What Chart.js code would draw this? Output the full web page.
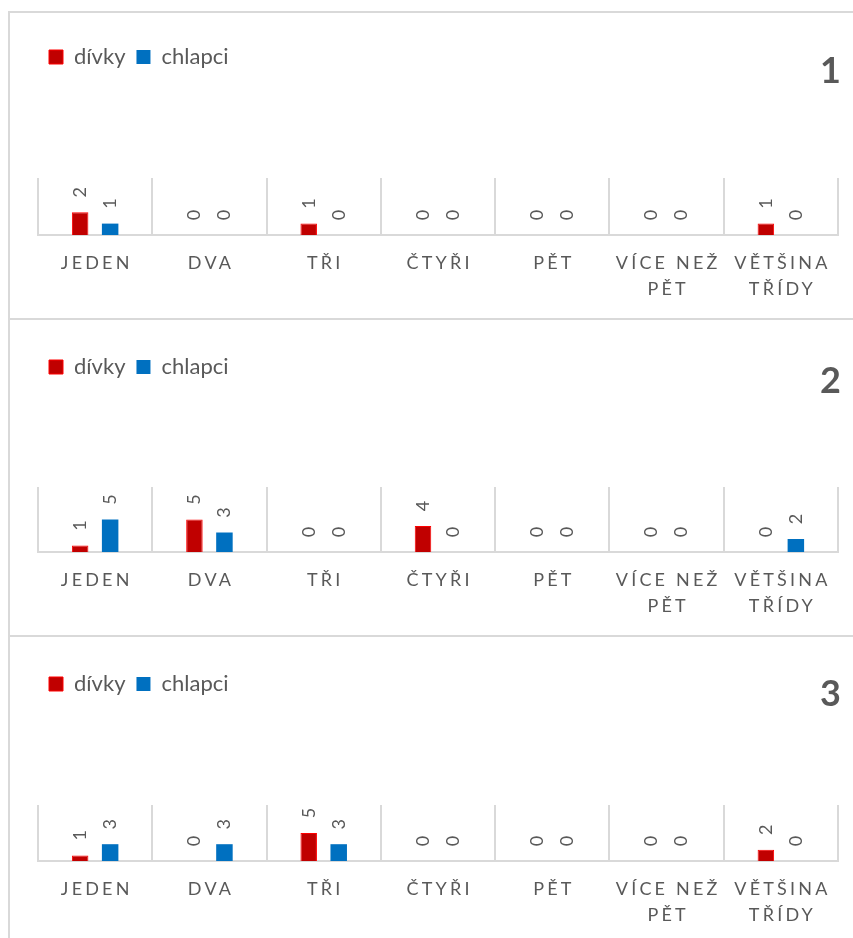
<!DOCTYPE html>
<html>
<head>
<meta charset="utf-8">
<script src="https://cdn.jsdelivr.net/npm/chart.js@4.4.1/dist/chart.umd.min.js"></script>
<style>
  html, body { margin: 0; padding: 0; background: #fff; width: 853px; height: 938px; overflow: hidden; }
  .panel { position: absolute; left: 8px; width: 900px; box-sizing: border-box;
           border-left: 2px solid #d9d9d9; border-top: 2px solid #d9d9d9; }
  .panel canvas { display: block; }
</style>
</head>
<body>
<div class="panel" style="top:11px;height:307px"><canvas id="chart1" width="843" height="305"></canvas></div>
<div class="panel" style="top:318px;height:317px"><canvas id="chart2" width="843" height="315"></canvas></div>
<div class="panel" style="top:635px;height:310px"><canvas id="chart3" width="843" height="301"></canvas></div>
<script>
// ===== data =====
var categories = ["JEDEN", "DVA", "TŘI", "ČTYŘI", "PĚT", ["VÍCE NEŽ", "PĚT"], ["VĚTŠINA", "TŘÍDY"]];
var seriesNames = ["dívky", "chlapci"];

var divky1   = [2, 0, 1, 0, 0, 0, 1];
var chlapci1 = [1, 0, 0, 0, 0, 0, 0];
var divky2   = [1, 5, 0, 4, 0, 0, 0];
var chlapci2 = [5, 3, 0, 0, 0, 0, 2];
var divky3   = [1, 0, 5, 0, 0, 0, 2];
var chlapci3 = [3, 3, 3, 0, 0, 0, 0];

var panelNumbers = ["1", "2", "3"];
var axisMax = [5, 10, 10];

// ===== styles =====
var GRAY = "#595959";
var FONT = "Lato, 'Open Sans', sans-serif";
var LETTER_SPACING = 3.2;

// category axis with spaced letters
class SpacedCategoryScale extends Chart.CategoryScale {
  drawLabels(area) {
    var ctx = this.ctx;
    ctx.save();
    ctx.letterSpacing = LETTER_SPACING + "px";
    ctx.translate(LETTER_SPACING / 2, 0);
    super.drawLabels(area);
    ctx.restore();
  }
}
SpacedCategoryScale.id = "spacedCategory";
SpacedCategoryScale.defaults = Chart.CategoryScale.defaults;
Chart.register(SpacedCategoryScale);

// rotated value labels above bars
var valueLabels = {
  id: "valueLabels",
  afterDatasetsDraw: function (chart) {
    var ctx = chart.ctx;
    ctx.save();
    ctx.font = "18px " + FONT;
    ctx.fillStyle = GRAY;
    ctx.textAlign = "center";
    ctx.textBaseline = "middle";
    chart.data.datasets.forEach(function (ds, i) {
      chart.getDatasetMeta(i).data.forEach(function (bar, j) {
        ctx.save();
        ctx.translate(bar.x, bar.y - 20);
        ctx.rotate(-Math.PI / 2);
        ctx.fillText(String(ds.data[j]), 0, 0);
        ctx.restore();
      });
    });
    ctx.restore();
  }
};

// panel number top right
var panelNumber = {
  id: "panelNumber",
  afterDraw: function (chart, args, opts) {
    var ctx = chart.ctx;
    ctx.save();
    ctx.font = "bold 36px " + FONT;
    ctx.fillStyle = GRAY;
    ctx.textAlign = "right";
    ctx.textBaseline = "alphabetic";
    ctx.fillText(opts.text, 831, opts.y + 13);
    ctx.restore();
  }
};

function makeChart(id, girls, boys, idx, lay) {
  var canvas = document.getElementById(id);
  return new Chart(canvas, {
    type: "bar",
    data: {
      labels: categories,
      datasets: [
        {
          label: seriesNames[0], data: girls, xAxisID: "x",
          backgroundColor: "#c00000", borderColor: "#ff0000",
          borderWidth: function (c) { return c.raw ? 1 : 0; },
          barPercentage: 0.55, categoryPercentage: 0.525
        },
        {
          label: seriesNames[1], data: boys, xAxisID: "x",
          backgroundColor: "#0070c0", borderColor: "#0070c0",
          borderWidth: 0,
          barPercentage: 0.55, categoryPercentage: 0.525
        }
      ]
    },
    plugins: [valueLabels, panelNumber],
    options: {
      responsive: false, animation: false,
      layout: { padding: { left: 28, right: 15, top: lay.top, bottom: 0 } },
      plugins: {
        legend: {
          position: "top", align: "start",
          labels: {
            color: GRAY, font: { family: FONT, size: 22 },
            boxWidth: 14, boxHeight: 14, padding: 11
          }
        },
        tooltip: { enabled: false },
        panelNumber: { text: panelNumbers[idx], y: lay.numY }
      },
      scales: {
        x: {
          type: "spacedCategory", position: "bottom",
          offset: true,
          grid: { offset: true, color: "#d9d9d9", lineWidth: 2, drawTicks: false },
          border: { color: "#d9d9d9", width: 2 },
          ticks: {
            color: GRAY, font: { family: FONT, size: 18, lineHeight: 1.45 },
            padding: 15, autoSkip: false, maxRotation: 0, minRotation: 0
          },
          afterFit: function (s) { s.height = lay.bottomH; }
        },
        gap: {
          type: "category", position: "top",
          grid: { display: false }, border: { display: false },
          ticks: { display: false },
          afterFit: function (s) { s.height = lay.gap; }
        },
        y: { display: false, min: 0, max: axisMax[idx] }
      }
    }
  });
}

makeChart("chart1", divky1, chlapci1, 0, { top: 22, gap: 100, bottomH: 83, numY: 57 });
makeChart("chart2", divky2, chlapci2, 1, { top: 25, gap: 99, bottomH: 83, numY: 60 });
makeChart("chart3", divky3, chlapci3, 2, { top: 25, gap: 100, bottomH: 77, numY: 56 });
</script>
</body>
</html>
